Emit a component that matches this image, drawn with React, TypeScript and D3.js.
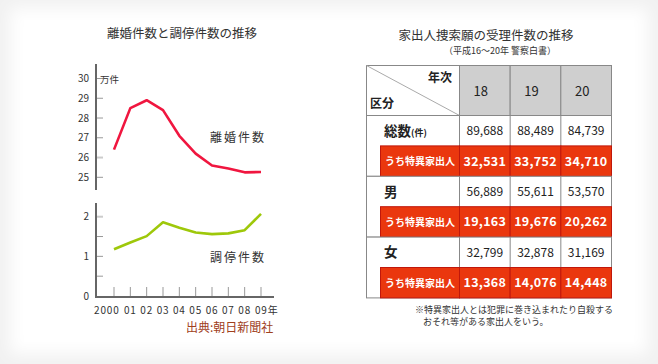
import React from "react";
import * as d3 from "d3";

const years = ["2000", "01", "02", "03", "04", "05", "06", "07", "08", "09"];
const divorces = [26.4, 28.5, 28.9, 28.4, 27.1, 26.2, 25.6, 25.45, 25.25, 25.27];
const mediations = [1.18, 1.35, 1.51, 1.86, 1.72, 1.6, 1.56, 1.58, 1.66, 2.07];
const topTicks = [25, 26, 27, 28, 29, 30];
const botTicks = [0, 0.5, 1, 1.5, 2];
const botLabels = [0, 1, 2];

const tableYears = ["18", "19", "20"];
const groups = ["総数", "男", "女"];
const totals = [
  [89688, 88489, 84739],
  [56889, 55611, 53570],
  [32799, 32878, 31169],
];
const special = [
  [32531, 33752, 34710],
  [19163, 19676, 20262],
  [13368, 14076, 14448],
];

const JP = "'Noto Sans CJK JP', 'Noto Sans', sans-serif";

export default function App() {
  const W = 658, H = 364;
  const x = d3.scalePoint<string>().domain(years).range([114, 261]);
  const yTop = d3.scaleLinear().domain([25, 30]).range([177.3, 78.5]);
  const yBot = d3.scaleLinear().domain([0, 2]).range([296, 216.7]);
  const lineTop = d3.line<number>().x((_, i) => x(years[i])!).y((d) => yTop(d));
  const lineBot = d3.line<number>().x((_, i) => x(years[i])!).y((d) => yBot(d));
  const fmt = d3.format(",");

  // table geometry
  const colX = d3.scaleBand<string>().domain(tableYears).range([459.5, 611.5]);
  const tLeft = 366.5, tTop = 65.5, hdrBottom = 115.5;
  const rowH = 30.4;
  const redLeft = 380.5;
  const rowY = d3.range(7).map((i) => hdrBottom + i * rowH);

  return (
    <div style={{ position: "absolute", left: 0, top: 0 }}>
      <svg width={W} height={H} style={{ display: "block" }}>
        <defs>
          <filter id="blur" x="-10%" y="-10%" width="120%" height="120%">
            <feGaussianBlur stdDeviation="8" />
          </filter>
        </defs>
        <rect x={0} y={0} width={W} height={H} fill="#f1f1f1" />
        <rect x={10} y={8} width={W - 20} height={H - 18} fill="#ffffff" filter="url(#blur)" />
        <rect x={24} y={20} width={W - 48} height={H - 42} fill="#ffffff" />

        {/* Left chart */}
        <text x={182} y={38} textAnchor="middle" fontFamily={JP} fontSize={12.5} fill="#333">
          離婚件数と調停件数の推移
        </text>
        {/* upper axis */}
        <line x1={96} x2={96} y1={64} y2={190} stroke="#666" strokeWidth={2} />
        {topTicks.map((t) => (
          <g key={"tt" + t}>
            <line x1={97} x2={103} y1={yTop(t)} y2={yTop(t)} stroke={t === 26 ? "#ccc" : "#999"} strokeWidth={t === 26 ? 2 : 1} />
            <text x={89} y={yTop(t) + 3.5} textAnchor="end" fontFamily={JP} fontSize={10} fill="#333">
              {t}
            </text>
          </g>
        ))}
        <text x={100} y={82.5} fontFamily={JP} fontSize={9.5} fill="#333">万件</text>
        <path d={lineTop(divorces)!} fill="none" stroke="#f0163f" strokeWidth={2.6} strokeLinejoin="round" />
        <text x={210} y={141.5} fontFamily={JP} fontSize={12} letterSpacing={2} fill="#333">離婚件数</text>

        {/* lower axis */}
        <line x1={96} x2={96} y1={203} y2={297} stroke="#666" strokeWidth={2} />
        <line x1={95} x2={274} y1={297} y2={297} stroke="#666" strokeWidth={2} />
        {botTicks.filter((t) => t > 0).map((t) => (
          <line key={"bt" + t} x1={97} x2={103} y1={yBot(t)} y2={yBot(t)} stroke={t === 2 ? "#ccc" : "#999"} strokeWidth={t === 2 ? 2 : 1} />
        ))}
        {botLabels.map((t) => (
          <text key={"bl" + t} x={89} y={yBot(t) + 3.5} textAnchor="end" fontFamily={JP} fontSize={10} fill="#333">
            {t}
          </text>
        ))}
        {years.map((yr) => (
          <line key={"xt" + yr} x1={x(yr)!} x2={x(yr)!} y1={287} y2={296} stroke="#999" strokeWidth={1} />
        ))}
        {years.map((yr, i) => (
          <text
            key={"xl" + yr}
            x={i === 0 ? x(yr)! + 5.5 : i === years.length - 1 ? x(yr)! - 6 : x(yr)!}
            y={314}
            textAnchor={i === 0 ? "end" : i === years.length - 1 ? "start" : "middle"}
            fontFamily={JP}
            fontSize={10}
            letterSpacing={0.8}
            fill="#333"
          >
            {i === years.length - 1 ? yr + "年" : yr}
          </text>
        ))}
        <path d={lineBot(mediations)!} fill="none" stroke="#9ec80a" strokeWidth={2.6} strokeLinejoin="round" />
        <text x={210} y={262} fontFamily={JP} fontSize={12} letterSpacing={2} fill="#333">調停件数</text>
        <text x={186} y={331.5} fontFamily={JP} fontSize={12} fill="#a0401c">出典:朝日新聞社</text>

        {/* Right table */}
        <text x={486} y={39.5} textAnchor="middle" fontFamily={JP} fontSize={12.5} fill="#333">
          家出人捜索願の受理件数の推移
        </text>
        <text x={444} y={53.5} fontFamily={JP} fontSize={9} fill="#333">（平成16～20年 警察白書）</text>

        {/* header */}
        {tableYears.map((yr) => (
          <g key={"h" + yr}>
            <rect x={colX(yr)!} y={tTop} width={colX.bandwidth()} height={hdrBottom - tTop} fill="#cfcfcf" stroke="#888" />
            <text x={colX(yr)! + colX.bandwidth() / 2 - 4} y={hdrBottom - 20} textAnchor="middle" fontFamily={JP} fontSize={13} fill="#222">
              {yr}
            </text>
          </g>
        ))}
        <rect x={tLeft} y={tTop} width={459.5 - tLeft} height={hdrBottom - tTop} fill="#fff" stroke="#888" />
        <line x1={tLeft} y1={tTop} x2={459.5} y2={hdrBottom} stroke="#aaa" strokeWidth={1} />
        <text x={452} y={82} textAnchor="end" fontFamily={JP} fontSize={12} fontWeight="bold" fill="#222">年次</text>
        <text x={370} y={108} fontFamily={JP} fontSize={12} fontWeight="bold" fill="#222">区分</text>

        {groups.map((g, gi) => {
          const yW = rowY[gi * 2];
          const yR = rowY[gi * 2 + 1];
          const yE = rowY[gi * 2 + 2];
          return (
            <g key={"g" + g}>
              <rect x={tLeft} y={yW} width={611.5 - tLeft} height={yE - yW} fill="#fff" stroke="#888" />
              {tableYears.map((yr, ci) => (
                <g key={"w" + yr}>
                  <line x1={colX(yr)!} x2={colX(yr)!} y1={yW} y2={yR} stroke="#888" />
                  <text x={colX(yr)! + colX.bandwidth() / 2} y={yW + rowH / 2 + 4.5} textAnchor="middle" fontFamily={JP} fontSize={12} fill="#222">
                    {fmt(totals[gi][ci])}
                  </text>
                </g>
              ))}
              <text x={384} y={yW + rowH / 2 + 5} fontFamily={JP} fontSize={13.5} fontWeight="bold" fill="#222">
                {g}
                {gi === 0 ? <tspan fontSize={9}>(件)</tspan> : null}
              </text>
              <rect x={redLeft} y={yR} width={459.5 - redLeft} height={yE - yR} fill="#ea370e" stroke="#c0170b" />
              <text x={385} y={yR + rowH / 2 + 4} fontFamily={JP} fontSize={10} fontWeight="bold" fill="#fff">
                うち特異家出人
              </text>
              {tableYears.map((yr, ci) => (
                <g key={"r" + yr}>
                  <rect x={colX(yr)!} y={yR} width={colX.bandwidth()} height={yE - yR} fill="#ea370e" stroke="#c0170b" />
                  <text x={colX(yr)! + colX.bandwidth() / 2} y={yR + rowH / 2 + 4.5} textAnchor="middle" fontFamily={JP} fontSize={12.5} fontWeight="bold" letterSpacing={0.3} fill="#fff">
                    {fmt(special[gi][ci])}
                  </text>
                </g>
              ))}
            </g>
          );
        })}
        <text x={415} y={313} fontFamily={JP} fontSize={9} fill="#333">※特異家出人とは犯罪に巻き込まれたり自殺する</text>
        <text x={423} y={325} fontFamily={JP} fontSize={9} fill="#333">おそれ等がある家出人をいう。</text>
      </svg>
    </div>
  );
}
